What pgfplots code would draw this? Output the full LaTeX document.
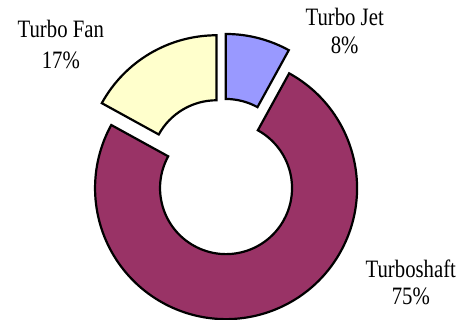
\documentclass[border=0pt]{standalone}
\usepackage{pgfplots}
\pgfplotsset{compat=1.18}
\usepackage{fontspec}
\setmainfont{Liberation Serif}
\definecolor{jetc}{HTML}{9999FF}
\definecolor{shaftc}{HTML}{993366}
\definecolor{fanc}{HTML}{FFFFCC}
\newcommand{\lab}[1]{\scalebox{0.83}[1]{\fontsize{25}{30}\selectfont #1}}
\begin{document}
\begin{tikzpicture}
\begin{axis}[
  width=461pt, height=320pt, scale only axis,
  xmin=0, xmax=461, ymin=0, ymax=320,
  enlargelimits=false, hide axis, clip=false, disabledatascaling]
\pgfplotsextra{
  % start (cumulative %) / value (%) / colour
  \foreach \s/\v/\col in {0/8/jetc, 8/75/shaftc, 83/17/fanc} {
    \pgfmathsetmacro{\as}{90-3.6*\s}
    \pgfmathsetmacro{\ae}{\as-3.6*\v}
    \pgfmathsetmacro{\am}{(\as+\ae)/2}
    \pgfmathsetmacro{\ox}{222.7+12*cos(\am)}
    \pgfmathsetmacro{\oy}{143.4+12*sin(\am)}
    \filldraw[fill=\col, draw=black, line width=2.2pt, line join=miter]
      (axis cs:{\ox+131*cos(\as)},{\oy+131*sin(\as)})
        arc[start angle=\as, end angle=\ae, radius=131pt]
      -- (axis cs:{\ox+66*cos(\ae)},{\oy+66*sin(\ae)})
        arc[start angle=\ae, end angle=\as, radius=66pt]
      -- cycle;
  }
}
\node[anchor=base, inner sep=0pt] at (axis cs:60.8,282.3) {\lab{Turbo Fan}};
\node[anchor=base, inner sep=0pt] at (axis cs:60.8,251.5) {\lab{17\%}};
\node[anchor=base, inner sep=0pt] at (axis cs:344.7,294) {\lab{Turbo Jet}};
\node[anchor=base, inner sep=0pt] at (axis cs:344.7,266.7) {\lab{8\%}};
\node[anchor=base, inner sep=0pt] at (axis cs:410.8,42.7) {\lab{Turboshaft}};
\node[anchor=base, inner sep=0pt] at (axis cs:410.8,15) {\lab{75\%}};
\end{axis}
\pgfresetboundingbox
\path[use as bounding box] (0,0) rectangle (461pt,320pt);
\end{tikzpicture}
\end{document}
